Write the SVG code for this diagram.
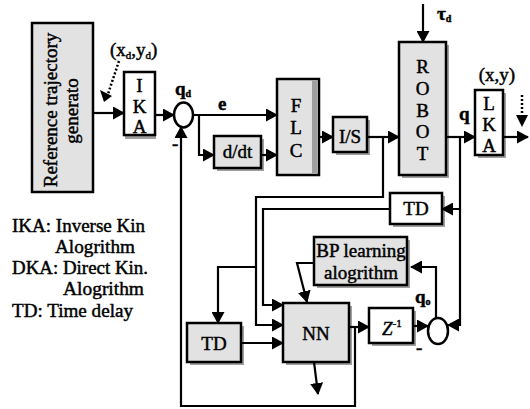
<svg xmlns="http://www.w3.org/2000/svg" width="530" height="409" viewBox="0 0 530 409">
<style>
  .box { stroke: #000; stroke-width: 2.5; }
  .g { fill: #e2e2e2; }
  .w { fill: #fff; }
  .sh { fill: #a0a0a0; }
  .t { font-family: "Liberation Serif", "Times New Roman", serif; font-size: 19px; fill: #000; stroke: #000; stroke-width: 0.45; }
  .c { text-anchor: middle; }
  .b { font-weight: bold; }
  .ln { fill: none; stroke: #000; stroke-width: 2.2; }
  .dot { fill: none; stroke: #000; stroke-width: 2.5; stroke-dasharray: 2 2; }
</style>
<defs>
  <marker id="ah" markerUnits="userSpaceOnUse" markerWidth="13" markerHeight="13" refX="11" refY="6.5" orient="auto">
    <path d="M0,0 L12,6.5 L0,13 z" fill="#000"/>
  </marker>
</defs>
<rect width="530" height="409" fill="#fff"/>

<g id="ref">
  <rect class="box g" x="32" y="23" width="61" height="169"/>
  <text class="t c" transform="translate(57,110) rotate(-90)">Reference trajectory</text>
  <text class="t c" transform="translate(78,111) rotate(-90)">generato</text>
</g>

<g id="xdyd">
  <text class="t" x="110" y="56" font-size="17">(x<tspan font-size="11" dy="3">d</tspan><tspan dy="-3">,y</tspan><tspan font-size="11" dy="3">d</tspan><tspan dy="-3">)</tspan></text>
</g>

<g id="ika">
  <rect class="sh" x="125" y="135" width="31" height="4"/>
  <rect class="box w" x="124" y="72" width="31" height="63"/>
  <text class="t c" x="139.5" y="92">I</text>
  <text class="t c" x="139.5" y="113">K</text>
  <text class="t c" x="139.5" y="133">A</text>
</g>

<g id="sum1">
  <ellipse cx="183.5" cy="115" rx="9.5" ry="12.5" fill="#fff" stroke="#000" stroke-width="2.5"/>
  <text class="t b" x="175" y="95" font-size="16">q<tspan font-size="10" dy="2">d</tspan></text>
  <text class="t b" x="172" y="150" font-size="16">-</text>
  <text class="t b" x="218" y="110" font-size="17">e</text>
</g>

<g id="ddt">
  <rect class="sh" x="217" y="139" width="47" height="32"/>
  <rect class="box g" x="214" y="136" width="47" height="32"/>
  <text class="t c" x="237.5" y="158">d/dt</text>
</g>

<g id="flc">
  <rect class="box g" x="277" y="79" width="42" height="96"/>
  <rect class="sh" x="312" y="81" width="5" height="92"/>
  <text class="t c" x="296" y="112">F</text>
  <text class="t c" x="296" y="134">L</text>
  <text class="t c" x="296" y="157">C</text>
</g>

<g id="is">
  <rect class="sh" x="336" y="120" width="34" height="35"/>
  <rect class="box g" x="333" y="117" width="34" height="35"/>
  <text class="t c" x="350" y="143">I/S</text>
</g>

<g id="robot">
  <rect class="sh" x="402" y="45" width="47" height="133"/>
  <rect class="box g" x="399" y="42" width="47" height="133"/>
  <text class="t c" x="422.5" y="73" font-size="18">R</text>
  <text class="t c" x="422.5" y="95" font-size="18">O</text>
  <text class="t c" x="422.5" y="117" font-size="18">B</text>
  <text class="t c" x="422.5" y="138" font-size="18">O</text>
  <text class="t c" x="422.5" y="160" font-size="18">T</text>
  <text class="t b" x="437" y="20" font-size="16">τ<tspan font-size="10" dy="2">d</tspan></text>
</g>

<g id="lka">
  <rect class="sh" x="478" y="93" width="28" height="65"/>
  <rect class="box w" x="475" y="90" width="28" height="65"/>
  <text class="t c" x="489" y="110">L</text>
  <text class="t c" x="489" y="131">K</text>
  <text class="t c" x="489" y="152">A</text>
  <text class="t c" x="497" y="81" font-size="18">(x,y)</text>
  <text class="t b" x="459" y="120" font-size="16">q</text>
</g>

<g id="td1">
  <rect class="sh" x="393" y="196" width="52" height="31"/>
  <rect class="box w" x="390" y="193" width="52" height="31"/>
  <text class="t c" x="416" y="215">TD</text>
</g>

<g id="bp">
  <rect class="sh" x="317" y="240" width="93" height="48"/>
  <rect class="box g" x="314" y="237" width="93" height="48"/>
  <text class="t c" x="361" y="257">BP learning</text>
  <text class="t c" x="361" y="279">alogrithm</text>
</g>

<g id="td2">
  <rect class="sh" x="190" y="326" width="54" height="39"/>
  <rect class="box g" x="187" y="323" width="54" height="39"/>
  <text class="t c" x="214" y="350">TD</text>
</g>

<g id="nn">
  <rect class="sh" x="286" y="306" width="66" height="59"/>
  <rect class="box g" x="283" y="303" width="66" height="59"/>
  <text class="t c" x="316" y="340" font-size="20">NN</text>
</g>

<g id="zinv">
  <rect class="sh" x="372" y="311" width="44" height="35"/>
  <rect class="box w" x="369" y="308" width="44" height="35"/>
  <text class="t" x="382" y="335" font-style="italic">Z<tspan font-size="11" dy="-8" font-style="normal">-1</tspan></text>
</g>

<g id="sum2">
  <ellipse cx="438" cy="331" rx="10" ry="13" fill="#fff" stroke="#000" stroke-width="2.5"/>
  <text class="t b" x="415" y="303" font-size="16">q<tspan font-size="10" dy="2">o</tspan></text>
  <text class="t b" x="416" y="354" font-size="16">-</text>
</g>

<g id="legend">
  <text class="t" x="12" y="232" textLength="133" lengthAdjust="spacingAndGlyphs">IKA: Inverse Kin</text>
  <text class="t" x="55" y="253" textLength="80" lengthAdjust="spacingAndGlyphs">Alogrithm</text>
  <text class="t" x="12" y="274" textLength="136" lengthAdjust="spacingAndGlyphs">DKA: Direct Kin.</text>
  <text class="t" x="63" y="295" textLength="81" lengthAdjust="spacingAndGlyphs">Alogrithm</text>
  <text class="t" x="12" y="317" textLength="121" lengthAdjust="spacingAndGlyphs">TD: Time delay</text>
</g>

<g id="connectors">
  <line class="ln" x1="93" y1="113" x2="124" y2="113" marker-end="url(#ah)"/>
  <line class="ln" x1="155" y1="115" x2="174" y2="115" marker-end="url(#ah)"/>
  <line class="ln" x1="193" y1="115" x2="277" y2="115" marker-end="url(#ah)"/>
  <polyline class="ln" points="199,115 199,155 214,155" marker-end="url(#ah)"/>
  <line class="ln" x1="261" y1="155" x2="277" y2="155" marker-end="url(#ah)"/>
  <line class="ln" x1="319" y1="137" x2="333" y2="137" marker-end="url(#ah)"/>
  <line class="ln" x1="367" y1="137" x2="399" y2="137" marker-end="url(#ah)"/>
  <line class="ln" x1="423" y1="4" x2="423" y2="42" marker-end="url(#ah)"/>
  <line class="ln" x1="446" y1="137" x2="475" y2="137" marker-end="url(#ah)"/>
  <line class="ln" x1="503" y1="137" x2="528" y2="137" marker-end="url(#ah)"/>
  <line class="dot" x1="522" y1="95" x2="522" y2="118"/>
  <path d="M516,115 L528,115 L522,127 z" fill="#000"/>
  <line class="dot" x1="119" y1="61" x2="108" y2="94"/>
  <path d="M100,90 L112,96 L104,102 z" fill="#000"/>
  <polyline class="ln" points="383,137 383,197 256,197 256,325 283,325" marker-end="url(#ah)"/>
  <polyline class="ln" points="460,137 460,209 442,209" marker-end="url(#ah)"/>
  <polyline class="ln" points="460,209 460,325 448,325" marker-end="url(#ah)"/>
  <polyline class="ln" points="390,209 263,209 263,305 283,305" marker-end="url(#ah)"/>
  <polyline class="ln" points="256,267 218,267 218,323" marker-end="url(#ah)"/>
  <line class="ln" x1="241" y1="343" x2="283" y2="343" marker-end="url(#ah)"/>
  <polyline class="ln" points="314,263 297,263 307,302" marker-end="url(#ah)"/>
  <line class="ln" x1="314" y1="362" x2="318" y2="394" marker-end="url(#ah)"/>
  <line class="ln" x1="349" y1="327" x2="369" y2="327" marker-end="url(#ah)"/>
  <polyline class="ln" points="355,327 355,406 181,406 181,127" marker-end="url(#ah)"/>
  <line class="ln" x1="413" y1="326" x2="428" y2="326" marker-end="url(#ah)"/>
  <polyline class="ln" points="436,318 436,267 411,267" marker-end="url(#ah)"/>
</g>
</svg>
